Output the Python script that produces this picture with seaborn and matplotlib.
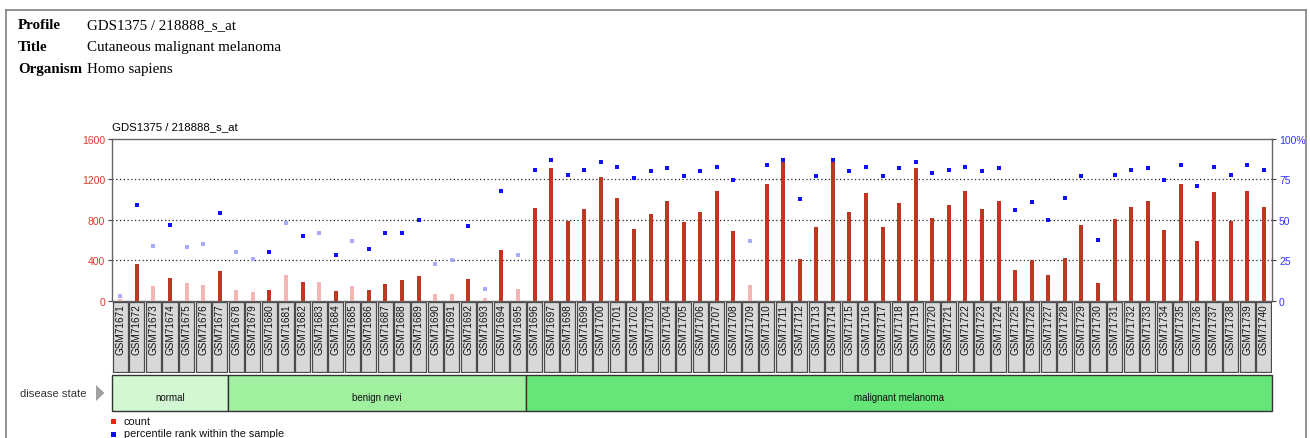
import numpy as np
import pandas as pd
import matplotlib
matplotlib.use("Agg")
import matplotlib.pyplot as plt
from matplotlib.patches import Rectangle, Polygon
from matplotlib.lines import Line2D
import seaborn as sns

# ---- data -------------------------------------------------------------
samples = [f"GSM{n}" for n in range(71671, 71741)]

counts = [15, 363, 150, 227, 180, 160, 297, 110, 83, 110,
          250, 187, 187, 95, 147, 107, 167, 207, 247, 70,
          70, 213, 30, 497, 117, 917, 1317, 790, 907, 1220,
          1017, 713, 860, 987, 783, 877, 1087, 693, 157, 1153,
          1403, 410, 733, 1370, 880, 1067, 733, 967, 1317, 820,
          947, 1087, 907, 987, 303, 400, 253, 420, 753, 177,
          810, 923, 987, 703, 1150, 593, 1073, 793, 1087, 927]

percentiles = [3, 59, 34, 47, 33, 35, 54, 30, 26, 30,
               48, 40, 42, 28, 37, 32, 42, 42, 50, 23,
               25, 46, 7, 68, 28, 80.6, 86.8, 77.7, 80.6, 85.6,
               82.5, 75.9, 80, 81.9, 77, 80, 82.5, 74.6, 37, 83.7,
               86.8, 62.7, 77, 86.8, 80, 82.5, 77, 81.9, 85.6, 78.8,
               80.6, 82.5, 80, 81.9, 55.9, 60.8, 49.9, 63.7, 76.9, 37.7,
               77.6, 80.6, 81.9, 74.4, 83.7, 70.9, 82.5, 77.6, 83.7, 80.6]

# detection call: P = present, A = absent (drawn in pale colours)
absent_idx = {0, 2, 4, 5, 7, 8, 10, 12, 14, 19, 20, 22, 24, 38}
calls = ["A" if i in absent_idx else "P" for i in range(len(samples))]

groups = ["normal", "benign nevi", "malignant melanoma"]
group_sizes = [7, 18, 45]
group_colors = ["#d2f7d2", "#a0f0a0", "#66e678"]

y_ticks = [0, 400, 800, 1200, 1600]
rank_ticks = [0, 25, 50, 75, 100]
rank_labels = ["0", "25", "50", "75", "100%"]

df = pd.DataFrame({"sample": samples, "count": counts,
                   "rank": percentiles, "call": calls})

# ---- figure -----------------------------------------------------------
W, H = 1310, 439
fig = plt.figure(figsize=(W / 100, H / 100), dpi=100)
plt.rcParams["font.family"] = ["Liberation Sans", "DejaVu Sans"]


def fx(px):
    return px / W


def fy(py):
    return 1 - py / H


# outer frame
frame_kw = dict(color="#808080", lw=1.2, transform=fig.transFigure)
fig.add_artist(Line2D([fx(6), fx(6)], [fy(11), 0], **frame_kw))
fig.add_artist(Line2D([fx(6), fx(1306)], [fy(11), fy(11)], **frame_kw))
fig.add_artist(Line2D([fx(1306), fx(1306)], [fy(11), 0], **frame_kw))

# header block
serif = ["Liberation Serif", "DejaVu Serif"]
for label, value, yb in [("Profile", "GDS1375 / 218888_s_at", 29),
                         ("Title", "Cutaneous malignant melanoma", 51),
                         ("Organism", "Homo sapiens", 73)]:
    fig.text(fx(18), fy(yb), label, family=serif, fontweight="bold",
             fontsize=10.8, va="baseline", ha="left")
    fig.text(fx(87), fy(yb), value, family=serif, fontsize=10.8,
             va="baseline", ha="left")

# ---- main plot --------------------------------------------------------
left, right = 112, 1272
top, bottom = 140, 301.7
ax = fig.add_axes([fx(left), fy(bottom), fx(right - left), (bottom - top) / H])

sns.barplot(data=df, x="sample", y="count", hue="call", order=samples,
            palette={"P": "#d82408", "A": "#ffaaaa"}, dodge=False,
            width=0.24, linewidth=0, legend=False, ax=ax, zorder=3)
ax.set_xlim(-0.5, len(samples) - 0.5)
ax.set_ylim(0, 1600)
ax.set_yticks(y_ticks)
ax.set_yticklabels([str(v) for v in y_ticks], color="#e03a2a", fontsize=7.5)
ax.set_xticks([])
ax.set_xlabel("")
ax.set_ylabel("")
for v in y_ticks[1:-1]:
    ax.axhline(v, color="#222222", lw=0.9, ls=(0, (1, 2)), zorder=1)
for s in ax.spines.values():
    s.set_color("#666666")
    s.set_linewidth(1.0)
ax.tick_params(axis="y", length=3, width=0.8, color="#444444", pad=2)

ax2 = ax.twinx()
sns.stripplot(data=df, x="sample", y="rank", hue="call", order=samples,
              palette={"P": "#1010ff", "A": "#aaaaff"}, jitter=False,
              marker="s", size=3.2, linewidth=0, legend=False, ax=ax2,
              zorder=4)
ax2.set_xlim(-0.5, len(samples) - 0.5)
ax2.set_ylim(0, 100)
ax2.set_yticks(rank_ticks)
ax2.set_yticklabels(rank_labels, color="#3333ff", fontsize=7.5)
ax2.set_xticks([])
ax2.set_xlabel("")
ax2.set_ylabel("")
for s in ax2.spines.values():
    s.set_visible(False)
ax2.tick_params(axis="y", length=3, width=0.8, color="#444444", pad=2)

fig.text(fx(112), fy(130), "GDS1375 / 218888_s_at", fontsize=8.2,
         va="baseline", ha="left")

# ---- sample name boxes ------------------------------------------------
lab_top, lab_bot = 302, 373.5
axl = fig.add_axes([fx(left), fy(lab_bot), fx(right - left), (lab_bot - lab_top) / H])
axl.set_xlim(-0.5, len(samples) - 0.5)
axl.set_ylim(0, 1)
axl.axis("off")
for i, name in enumerate(samples):
    axl.add_patch(Rectangle((i - 0.5 + 0.04, 0.01), 0.92, 0.98,
                            facecolor="#d8d8d8", edgecolor="#4a4a4a", lw=0.9))
    axl.text(i, 0.26, name, rotation=90, ha="center", va="bottom",
             fontsize=7.2, color="#111111")

# ---- disease state strip ----------------------------------------------
ds_top, ds_bot = 375.5, 412
axd = fig.add_axes([fx(left), fy(ds_bot), fx(right - left), (ds_bot - ds_top) / H])
axd.set_xlim(-0.5, len(samples) - 0.5)
axd.set_ylim(0, 1)
axd.axis("off")
start = -0.5
for g, n, c in zip(groups, group_sizes, group_colors):
    axd.add_patch(Rectangle((start, 0.0), n, 1.0, facecolor=c,
                            edgecolor="#333333", lw=1.0, clip_on=False))
    axd.text(start + n / 2, 0.37, g, ha="center", va="center",
             fontsize=7.0, color="#111111")
    start += n

fig.text(fx(20), fy(394), "disease state", fontsize=8.1, ha="left",
         va="center", color="#333333")
fig.add_artist(Polygon([[fx(96), fy(386)], [fx(96), fy(402)], [fx(104.5), fy(394)]],
                       closed=True, facecolor="#a0a0a0", edgecolor="none",
                       transform=fig.transFigure))

# ---- legend -----------------------------------------------------------
fig.add_artist(Rectangle((fx(111), fy(424.5)), fx(5), 5 / H,
                         facecolor="#e02a10", edgecolor="none",
                         transform=fig.transFigure))
fig.text(fx(124), fy(422), "count", fontsize=7.8, ha="left", va="center",
         color="#111111")
fig.add_artist(Rectangle((fx(111), fy(437.5)), fx(5), 5 / H,
                         facecolor="#1010ff", edgecolor="none",
                         transform=fig.transFigure))
fig.text(fx(124), fy(434.5), "percentile rank within the sample", fontsize=7.8,
         ha="left", va="center", color="#111111")

fig.savefig("out.png", dpi=100)
